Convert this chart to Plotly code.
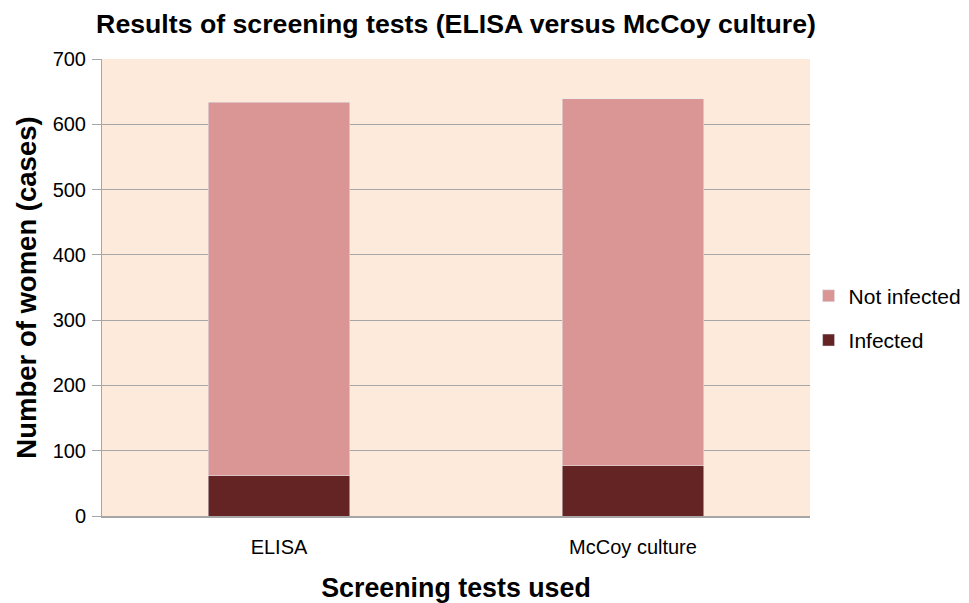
import plotly.graph_objects as go

categories = ["ELISA", "McCoy culture"]
infected = [62, 77]
not_infected = [572, 562]
y_ticks = [0, 100, 200, 300, 400, 500, 600, 700]

fig = go.Figure()
fig.add_trace(go.Bar(name="Infected", x=categories, y=infected, marker_color="#632423",
                     legendgroup="a", legendrank=2))
fig.add_trace(go.Bar(name="Not infected", x=categories, y=not_infected, marker_color="#D99694",
                     legendgroup="b", legendrank=1))

# The page body has an 8px margin; the figure is sized to fit the 969x603 window.
W, H = 961, 595
font_family = "Liberation Sans, Arial, sans-serif"
fig.update_layout(
    barmode="stack",
    bargap=0.6,
    width=W, height=H,
    margin=dict(l=94, r=159, t=51, b=87, autoexpand=False),
    paper_bgcolor="white",
    plot_bgcolor="#FDEADA",
    font=dict(family=font_family, size=20, color="black"),
    title=dict(text="<b>Results of screening tests (ELISA versus McCoy culture)</b>",
               x=448/W, xanchor="center", y=1-16/H, yanchor="middle",
               font=dict(size=26.7, color="black")),
    legend=dict(x=0.998, xanchor="left", y=0.433, yanchor="middle",
                traceorder="grouped",
                font=dict(size=21), itemwidth=30, tracegroupgap=14,
                bgcolor="rgba(0,0,0,0)"),
    showlegend=True,
)
fig.update_yaxes(
    range=[0, 700], tickvals=y_ticks, showgrid=True, gridcolor="#A6A6A6", gridwidth=1,
    showline=True, linecolor="#A6A6A6", linewidth=1, ticks="outside", ticklen=9,
    tickcolor="#A6A6A6", zeroline=False, automargin=False, ticklabelstandoff=2,
    title=dict(text="<b>Number of women (cases)</b>", font=dict(size=27.5), standoff=8),
    tickfont=dict(size=20),
)
fig.update_xaxes(
    showline=True, linecolor="#A6A6A6", linewidth=2, ticks="", automargin=False,
    ticklabelstandoff=12,
    title=dict(text="<b>Screening tests used</b>", font=dict(size=26.8), standoff=26),
    tickfont=dict(size=20),
)
fig.write_html("out.html")
